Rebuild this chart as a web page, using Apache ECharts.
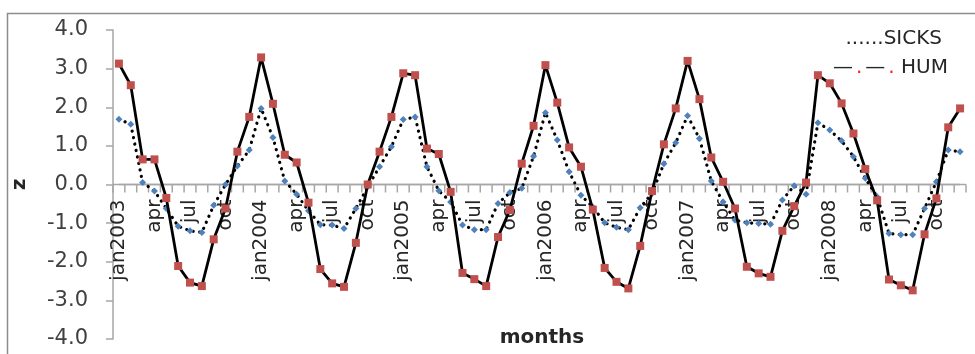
<!DOCTYPE html>
<html>
<head>
<meta charset="utf-8">
<script src="https://cdn.jsdelivr.net/npm/echarts@6/dist/echarts.min.js"></script>
<style>
html,body{margin:0;padding:0;background:#fff;}
#chart{width:975px;height:354px;}
</style>
</head>
<body>
<div id="chart"></div>
<script>
// Data
const monthNames = ['jan','feb','mar','apr','may','jun','jul','aug','sep','oct','nov','dec'];
const years = [2003, 2004, 2005, 2006, 2007, 2008];
const yTicks = [-4, -3, -2, -1, 0, 1, 2, 3, 4];

const hum = [
  3.13, 2.57, 0.65, 0.65, -0.35, -2.11, -2.54, -2.63, -1.42, -0.62, 0.85, 1.75,
  3.29, 2.09, 0.77, 0.57, -0.47, -2.19, -2.56, -2.65, -1.51, 0.00, 0.85, 1.75,
  2.88, 2.83, 0.93, 0.79, -0.19, -2.29, -2.45, -2.63, -1.36, -0.66, 0.54, 1.52,
  3.09, 2.12, 0.96, 0.46, -0.65, -2.16, -2.52, -2.69, -1.59, -0.17, 1.04, 1.97,
  3.20, 2.21, 0.70, 0.07, -0.62, -2.13, -2.30, -2.39, -1.20, -0.56, 0.05, 2.83,
  2.62, 2.10, 1.32, 0.40, -0.41, -2.46, -2.61, -2.74, -1.29, -0.36, 1.48, 1.97
];
const sicks = [
  1.69, 1.56, 0.05, -0.17, -0.62, -1.08, -1.20, -1.24, -0.54, 0.00, 0.48, 0.89,
  1.97, 1.22, 0.09, -0.25, -0.68, -1.04, -1.05, -1.14, -0.62, -0.06, 0.46, 0.98,
  1.68, 1.75, 0.46, -0.16, -0.45, -1.05, -1.17, -1.17, -0.49, -0.21, -0.10, 0.73,
  1.86, 1.15, 0.33, -0.28, -0.58, -0.99, -1.11, -1.17, -0.60, -0.23, 0.54, 1.08,
  1.78, 1.19, 0.09, -0.45, -0.92, -0.99, -1.01, -1.03, -0.40, -0.03, -0.25, 1.60,
  1.41, 1.13, 0.72, 0.16, -0.32, -1.27, -1.30, -1.30, -0.62, 0.07, 0.89, 0.85
];

const categories = [];
years.forEach(y => monthNames.forEach(m => categories.push(m + y)));
// the zero line of the category axis
const baseline = categories.map(() => 0);

const FONT = 'DejaVu Sans';
const AXIS_GRAY = '#a6a6a6';
const W = 975, H = 354;
const G = { left: 113, right: 9, top: 30, bottom: 15 };
const yMin = yTicks[0], yMax = yTicks[yTicks.length - 1];
const gridH = H - G.top - G.bottom;
const bandW = (W - G.left - G.right) / categories.length;
// move the category axis labels up from the grid bottom to the zero line
const zeroOffset = -gridH * (0 - yMin) / (yMax - yMin);

const baseGraphic = [
  {
    type: 'rect',
    shape: { x: 7.5, y: 13.5, width: 1100, height: 500 },
    style: { fill: 'none', stroke: '#8c8c8c', lineWidth: 1.5 },
    silent: true,
    z: -1
  },
  {
    type: 'text',
    x: 542,
    y: 338,
    style: {
      text: 'months',
      fontFamily: FONT,
      fontWeight: 'bold',
      fontSize: 20,
      fill: '#262626',
      align: 'center',
      verticalAlign: 'middle'
    }
  },
  {
    type: 'text',
    right: 33,
    top: 29,
    style: {
      text: '......SICKS',
      fontFamily: FONT,
      fontSize: 20,
      fill: '#262626'
    }
  },
  {
    type: 'text',
    right: 27,
    top: 58,
    style: {
      text: '{d|\u2014}{r|.}{d|\u2014}{r|.} {t|HUM}',
      fontFamily: FONT,
      fontSize: 20,
      rich: {
        d: { fontFamily: FONT, fontSize: 20, fill: '#262626', padding: [0, 3, 0, 3] },
        r: { fontFamily: FONT, fontSize: 20, fill: '#ff2020' },
        t: { fontFamily: FONT, fontSize: 20, fill: '#262626' }
      }
    }
  }
];

const chart = echarts.init(document.getElementById('chart'));
chart.setOption({
  animation: false,
  backgroundColor: '#fff',
  textStyle: { fontFamily: FONT },
  grid: { left: G.left, right: G.right, top: G.top, bottom: G.bottom, containLabel: false, outerBoundsMode: 'none' },
  xAxis: {
    type: 'category',
    data: categories,
    boundaryGap: true,
    position: 'bottom',
    offset: zeroOffset,
    axisLine: { show: false, onZero: false },
    axisTick: { show: false },
    axisLabel: {
      show: true,
      interval: 2,
      rotate: 90,
      margin: 15,
      fontFamily: FONT,
      fontSize: 20,
      color: '#262626',
      formatter: function (v) { return v.slice(0, 3) === 'jan' ? v : v.slice(0, 3); }
    },
    splitLine: { show: false }
  },
  yAxis: {
    type: 'value',
    min: yMin,
    max: yMax,
    interval: 1,
    name: 'z',
    nameLocation: 'middle',
    nameRotate: 90,
    nameGap: 83,
    nameTextStyle: { fontFamily: FONT, fontWeight: 'bold', fontSize: 20, color: '#262626' },
    axisLine: { show: true, lineStyle: { color: AXIS_GRAY, width: 1.5 } },
    axisTick: { show: true, length: 7, lineStyle: { color: AXIS_GRAY, width: 1.5 } },
    axisLabel: {
      margin: 25,
      showMinLabel: true,
      showMaxLabel: true,
      fontFamily: FONT,
      fontSize: 21,
      color: '#404040',
      formatter: function (v) { return v.toFixed(1); }
    },
    splitLine: { show: false }
  },
  series: [
    {
      name: 'axis',
      type: 'line',
      data: baseline,
      silent: true,
      symbol: 'rect',
      symbolSize: [1.5, 8],
      symbolOffset: [-bandW / 2, 4],
      showSymbol: true,
      showAllSymbol: true,
      itemStyle: { color: AXIS_GRAY },
      lineStyle: { color: AXIS_GRAY, width: 1.5 },
      z: 1
    },
    {
      name: 'SICKS',
      type: 'line',
      data: sicks,
      symbol: 'diamond',
      symbolSize: 7,
      showSymbol: true,
      showAllSymbol: true,
      itemStyle: { color: '#4F81BD' },
      lineStyle: { color: '#000', width: 3.2, type: [0.1, 6.5], cap: 'round' },
      z: 2
    },
    {
      name: 'HUM',
      type: 'line',
      data: hum,
      symbol: 'rect',
      symbolSize: 8,
      showSymbol: true,
      showAllSymbol: true,
      itemStyle: { color: '#C0504D' },
      lineStyle: { color: '#000', width: 2.8 },
      z: 3
    }
  ],
  graphic: baseGraphic
});

// extend the zero line to the grid edges and add the last tick, via the chart's scales
try {
  const y0 = chart.convertToPixel({ yAxisIndex: 0 }, 0);
  const xFirst = chart.convertToPixel({ xAxisIndex: 0 }, 0);
  const xLast = chart.convertToPixel({ xAxisIndex: 0 }, categories.length - 1);
  if (isFinite(y0) && isFinite(xFirst) && isFinite(xLast)) {
    const xl = xFirst - bandW / 2, xr = xLast + bandW / 2;
    const st = { stroke: AXIS_GRAY, lineWidth: 1.5 };
    chart.setOption({
      graphic: baseGraphic.concat([
        { type: 'line', shape: { x1: xl, y1: y0, x2: xr, y2: y0 }, style: st, silent: true },
        { type: 'line', shape: { x1: xr, y1: y0, x2: xr, y2: y0 + 8 }, style: st, silent: true }
      ])
    });
  }
} catch (e) {}
</script>
</body>
</html>
